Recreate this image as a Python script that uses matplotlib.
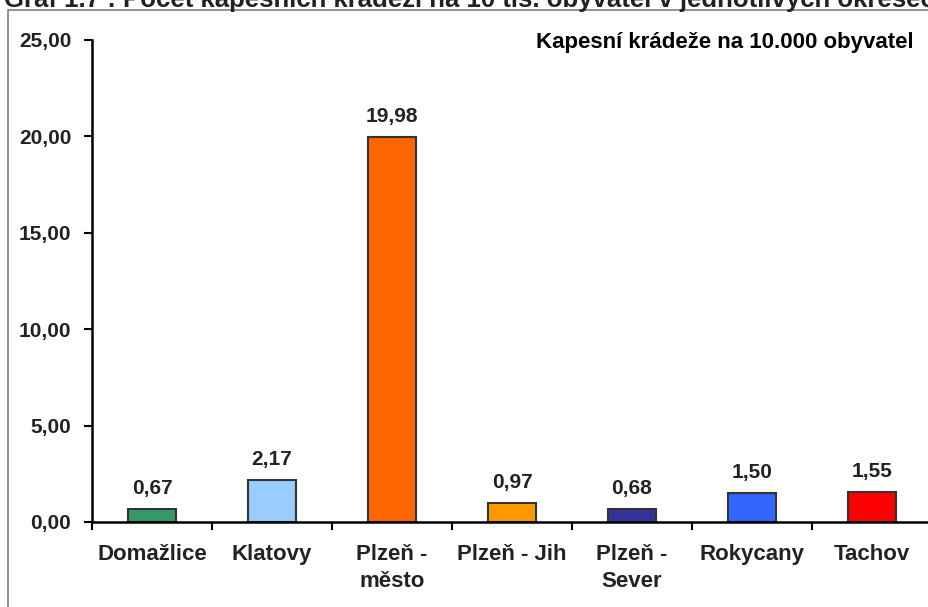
import matplotlib.pyplot as plt
import numpy as np
from matplotlib.patches import Rectangle

districts = ['Domažlice', 'Klatovy', 'Plzeň -\nměsto', 'Plzeň - Jih',
             'Plzeň -\nSever', 'Rokycany', 'Tachov']
values = [0.67, 2.17, 19.98, 0.97, 0.68, 1.50, 1.55]
colors = ['#339966', '#99CCFF', '#FF6600', '#FF9900', '#333399', '#3366FF', '#FF0000']
y_ticks = [0, 5, 10, 15, 20, 25]

title = 'Graf 1.7 : Počet kapesních krádeží na 10 tis. obyvatel v jednotlivých okresech'
series_name = 'Kapesní krádeže na 10.000 obyvatel'

plt.rcParams['font.family'] = ['Liberation Sans', 'DejaVu Sans']
plt.rcParams['font.weight'] = 'bold'

W, H = 929, 607
fig = plt.figure(figsize=(W / 100, H / 100), dpi=100)

# chart frame (cut off at right and bottom like the original)
fig.patches.append(Rectangle((8 / W, -0.05), 1.1, (H - 10) / H + 0.05,
                             transform=fig.transFigure, fill=False,
                             edgecolor='#808080', linewidth=1.2))
fig.text(4 / W, 1 - 7 / H, title, fontsize=18.5, fontweight='bold',
         color='#222222', ha='left', va='baseline')

ax = fig.add_axes([92 / W, 1 - 522 / H, 840 / W, (522 - 40) / H])
x = np.arange(len(values))
bars = ax.bar(x, values, width=0.4, color=colors, edgecolor='#333333', linewidth=1.5)

for xi, v in zip(x, values):
    ax.annotate(f'{v:.2f}'.replace('.', ','), (xi, v), xytext=(0, 8),
                textcoords='offset points', ha='center', va='bottom',
                fontsize=15, fontweight='bold', color='#222222')

ax.set_xlim(-0.5, len(values) - 0.5)
ax.set_ylim(0, 25)
ax.set_yticks(y_ticks)
ax.set_yticklabels([f'{t:.2f}'.replace('.', ',') for t in y_ticks],
                   fontsize=15, fontweight='bold', color='#222222')
ax.set_xticks(np.arange(len(values) + 1) - 0.5)
ax.set_xticklabels([])
ax.set_xticks(x, minor=True)
ax.set_xticklabels(districts, minor=True, fontsize=16, fontweight='bold',
                   color='#222222', linespacing=1.35, va='top')
ax.tick_params(axis='x', which='minor', length=0, pad=16)
ax.tick_params(axis='x', which='major', length=6, width=1.5, direction='out')
ax.tick_params(axis='y', length=6, width=1.5, direction='out', pad=9)

for s in ['top', 'right']:
    ax.spines[s].set_visible(False)
for s in ['left', 'bottom']:
    ax.spines[s].set_linewidth(1.8)
    ax.spines[s].set_color('black')

ax.text(0.978, 0.995, series_name, transform=ax.transAxes, ha='right', va='center',
        fontsize=16, fontweight='bold', color='black')

fig.savefig('out.png', dpi=100)
